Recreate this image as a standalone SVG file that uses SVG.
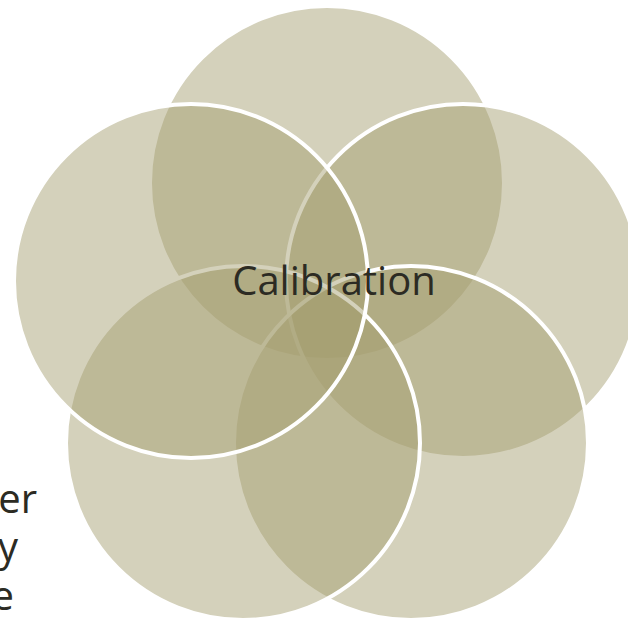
<svg xmlns="http://www.w3.org/2000/svg" width="628" height="619" viewBox="0 0 628 619">
  <style>
    .venn { fill: rgb(163,157,110); fill-opacity: 0.47; stroke: #ffffff; stroke-width: 4; }
    .label { font-family: "Open Sans", "Liberation Sans", sans-serif; font-size: 40px; fill: #2c2b23; }
  </style>
  <rect x="0" y="0" width="628" height="619" fill="#ffffff"/>
  <!-- outer labels, clipped at the left edge -->
  <g id="side-text" class="label" text-anchor="end">
    <text x="37" y="513">er</text>
    <text x="18" y="561">y</text>
    <text x="14" y="610">e</text>
  </g>
  <!-- five overlapping circles, drawn in order so later fills soften earlier outlines -->
  <g id="circle-top"><circle class="venn" cx="327" cy="183" r="177"/></g>
  <g id="circle-right"><circle class="venn" cx="463" cy="281" r="177"/></g>
  <g id="circle-bottom-right"><circle class="venn" cx="411" cy="443" r="177"/></g>
  <g id="circle-bottom-left"><circle class="venn" cx="243" cy="443" r="177"/></g>
  <g id="circle-left"><circle class="venn" cx="191" cy="281" r="177"/></g>
  <g id="center-label">
    <text class="label" x="334" y="295" text-anchor="middle">Calibration</text>
  </g>
</svg>
